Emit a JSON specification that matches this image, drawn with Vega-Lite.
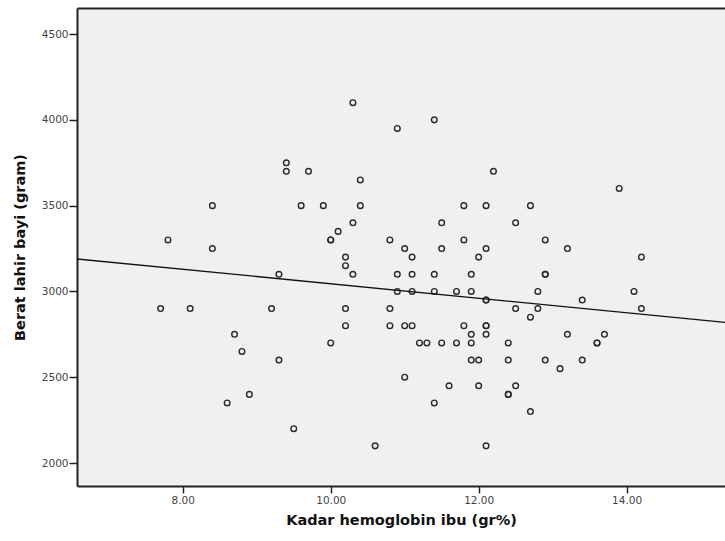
{
  "$schema": "https://vega.github.io/schema/vega-lite/v6.json",
  "autosize": "none",
  "padding": {"left": 77, "top": 8, "right": 0, "bottom": 55},
  "width": 648,
  "height": 478,
  "background": "white",
  "config": {
    "view": {"fill": "#f0f0f0", "stroke": null},
    "font": "DejaVu Sans"
  },
  "data": {
    "values": [
      {"hb": 7.7, "bb": 2900}, {"hb": 7.8, "bb": 3300}, {"hb": 8.1, "bb": 2900},
      {"hb": 8.4, "bb": 3500}, {"hb": 8.4, "bb": 3250}, {"hb": 8.6, "bb": 2350},
      {"hb": 8.7, "bb": 2750}, {"hb": 8.8, "bb": 2650}, {"hb": 8.9, "bb": 2400},
      {"hb": 9.2, "bb": 2900}, {"hb": 9.3, "bb": 3100}, {"hb": 9.3, "bb": 2600},
      {"hb": 9.4, "bb": 3750}, {"hb": 9.4, "bb": 3700}, {"hb": 9.5, "bb": 2200},
      {"hb": 9.6, "bb": 3500}, {"hb": 9.7, "bb": 3700}, {"hb": 9.9, "bb": 3500},
      {"hb": 10.0, "bb": 3300}, {"hb": 10.0, "bb": 3300}, {"hb": 10.0, "bb": 2700},
      {"hb": 10.1, "bb": 3350}, {"hb": 10.2, "bb": 3200}, {"hb": 10.2, "bb": 3150},
      {"hb": 10.2, "bb": 2900}, {"hb": 10.2, "bb": 2800}, {"hb": 10.3, "bb": 4100},
      {"hb": 10.3, "bb": 3400}, {"hb": 10.3, "bb": 3100}, {"hb": 10.4, "bb": 3650},
      {"hb": 10.4, "bb": 3500}, {"hb": 10.6, "bb": 2100}, {"hb": 10.8, "bb": 3300},
      {"hb": 10.8, "bb": 2900}, {"hb": 10.8, "bb": 2800}, {"hb": 10.9, "bb": 3950},
      {"hb": 10.9, "bb": 3100}, {"hb": 10.9, "bb": 3000}, {"hb": 11.0, "bb": 3250},
      {"hb": 11.0, "bb": 2800}, {"hb": 11.0, "bb": 2500}, {"hb": 11.1, "bb": 3200},
      {"hb": 11.1, "bb": 3100}, {"hb": 11.1, "bb": 3000}, {"hb": 11.1, "bb": 2800},
      {"hb": 11.2, "bb": 2700}, {"hb": 11.3, "bb": 2700}, {"hb": 11.4, "bb": 4000},
      {"hb": 11.4, "bb": 3100}, {"hb": 11.4, "bb": 3000}, {"hb": 11.4, "bb": 2350},
      {"hb": 11.5, "bb": 3400}, {"hb": 11.5, "bb": 3250}, {"hb": 11.5, "bb": 2700},
      {"hb": 11.6, "bb": 2450}, {"hb": 11.7, "bb": 3000}, {"hb": 11.7, "bb": 2700},
      {"hb": 11.8, "bb": 3500}, {"hb": 11.8, "bb": 3300}, {"hb": 11.8, "bb": 2800},
      {"hb": 11.9, "bb": 3100}, {"hb": 11.9, "bb": 3000}, {"hb": 11.9, "bb": 2750},
      {"hb": 11.9, "bb": 2700}, {"hb": 11.9, "bb": 2600}, {"hb": 12.0, "bb": 3200},
      {"hb": 12.0, "bb": 2600}, {"hb": 12.0, "bb": 2450}, {"hb": 12.1, "bb": 3500},
      {"hb": 12.1, "bb": 3250}, {"hb": 12.1, "bb": 2950}, {"hb": 12.1, "bb": 2950},
      {"hb": 12.1, "bb": 2800}, {"hb": 12.1, "bb": 2800}, {"hb": 12.1, "bb": 2750},
      {"hb": 12.1, "bb": 2100}, {"hb": 12.2, "bb": 3700}, {"hb": 12.4, "bb": 2700},
      {"hb": 12.4, "bb": 2600}, {"hb": 12.4, "bb": 2400}, {"hb": 12.4, "bb": 2400},
      {"hb": 12.5, "bb": 3400}, {"hb": 12.5, "bb": 2900}, {"hb": 12.5, "bb": 2450},
      {"hb": 12.7, "bb": 3500}, {"hb": 12.7, "bb": 2850}, {"hb": 12.7, "bb": 2300},
      {"hb": 12.8, "bb": 3000}, {"hb": 12.8, "bb": 2900}, {"hb": 12.9, "bb": 3300},
      {"hb": 12.9, "bb": 3100}, {"hb": 12.9, "bb": 3100}, {"hb": 12.9, "bb": 2600},
      {"hb": 13.1, "bb": 2550}, {"hb": 13.2, "bb": 3250}, {"hb": 13.2, "bb": 2750},
      {"hb": 13.4, "bb": 2950}, {"hb": 13.4, "bb": 2600}, {"hb": 13.6, "bb": 2700},
      {"hb": 13.6, "bb": 2700}, {"hb": 13.7, "bb": 2750}, {"hb": 13.9, "bb": 3600},
      {"hb": 14.1, "bb": 3000}, {"hb": 14.2, "bb": 3200}, {"hb": 14.2, "bb": 2900}
    ]
  },
  "resolve": {"axis": {"x": "independent"}},
  "layer": [
    {
      "mark": {"type": "point", "shape": "circle", "filled": false, "stroke": "#2a2a2a", "strokeWidth": 1.4, "size": 32, "opacity": 1},
      "encoding": {
        "x": {
          "field": "hb", "type": "quantitative",
          "scale": {"domain": [6.57, 15.33], "nice": false, "zero": false},
          "axis": {
            "orient": "bottom", "values": [8, 10, 12, 14], "format": ".2f", "grid": false,
            "domainColor": "#222", "domainWidth": 2, "tickColor": "#222", "tickWidth": 1.5, "tickSize": 7,
            "labelFontSize": 10.5, "labelColor": "#444", "labelPadding": 2,
            "title": "Kadar hemoglobin ibu (gr%)", "titleFontSize": 14.5, "titleFontWeight": "bold",
            "titleColor": "#111", "titlePadding": 8
          }
        },
        "y": {
          "field": "bb", "type": "quantitative",
          "scale": {"domain": [1866, 4652], "nice": false, "zero": false},
          "axis": {
            "values": [2000, 2500, 3000, 3500, 4000, 4500], "format": "d", "grid": false,
            "domainColor": "#222", "domainWidth": 2, "tickColor": "#222", "tickWidth": 1.5, "tickSize": 8,
            "labelFontSize": 10.5, "labelColor": "#444", "labelPadding": 1,
            "title": "Berat lahir bayi (gram)", "titleFontSize": 14.5, "titleFontWeight": "bold",
            "titleColor": "#111", "titlePadding": 14
          }
        }
      }
    },
    {
      "transform": [{"regression": "bb", "on": "hb", "extent": [6.57, 15.33]}],
      "mark": {"type": "line", "color": "#111", "strokeWidth": 1.3, "clip": true},
      "encoding": {
        "x": {
          "field": "hb", "type": "quantitative",
          "axis": {"orient": "top", "labels": false, "ticks": false, "grid": false, "domainColor": "#222", "domainWidth": 2, "title": null}
        },
        "y": {"field": "bb", "type": "quantitative"}
      }
    }
  ]
}
